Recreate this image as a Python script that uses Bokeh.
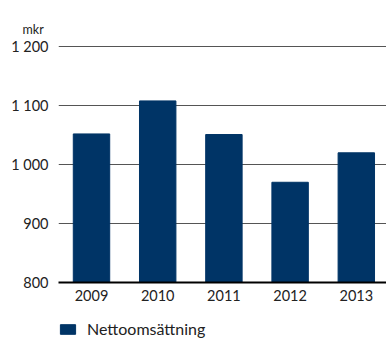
from bokeh.plotting import figure
from bokeh.layouts import column
from bokeh.models import ColumnDataSource, FixedTicker, Legend, LegendItem, Range1d
from bokeh.embed import file_html
from bokeh.resources import INLINE

years = ["2009", "2010", "2011", "2012", "2013"]
values = [1052, 1108, 1051, 970, 1020]
y_ticks = [800, 900, 1000, 1100, 1200]
y_tick_labels = ["800", "900", "1 000", "1 100", "1 200"]
series_name = "Nettoomsättning"
unit_label = "mkr"

FONT = "Lato"
BAR = "#003466"
TXT = "#222222"

x = list(range(len(years)))
src = ColumnDataSource(dict(x=x, top=values, year=years))

xr = Range1d(-0.4985, 4.456)
p = figure(width=386, height=310, output_backend="svg", toolbar_location=None,
           x_range=xr, y_range=Range1d(800, 1202),
           min_border_left=58, min_border_right=0, min_border_top=45, min_border_bottom=28,
           title=unit_label)
p.outline_line_color = None
p.background_fill_color = "white"
p.border_fill_color = "white"

p.title.align = "left"
p.title.offset = -36
p.title.text_font = FONT
p.title.text_font_size = "12.5px"
p.title.text_font_style = "normal"
p.title.text_color = TXT
p.title.standoff = 18

r = p.vbar(x="x", top="top", bottom=800, width=0.55, source=src, color=BAR)

p.xgrid.grid_line_color = None
p.ygrid.grid_line_color = "#555555"
p.ygrid.grid_line_width = 1
p.ygrid.ticker = FixedTicker(ticks=y_ticks)

p.xaxis.ticker = FixedTicker(ticks=x)
p.xaxis.major_label_overrides = {i: y for i, y in enumerate(years)}
p.xaxis.axis_line_color = "black"
p.xaxis.axis_line_width = 2
p.xaxis.major_tick_line_color = None
p.xaxis.minor_tick_line_color = None
p.xaxis.major_tick_out = 0
p.xaxis.major_tick_in = 0
p.xaxis.major_label_text_font = FONT
p.xaxis.major_label_text_font_size = "14.5px"
p.xaxis.major_label_text_color = TXT
p.xaxis.major_label_standoff = 7

p.yaxis.ticker = FixedTicker(ticks=y_ticks)
p.yaxis.major_label_overrides = {t: l for t, l in zip(y_ticks, y_tick_labels)}
p.yaxis.axis_line_color = None
p.yaxis.major_tick_line_color = None
p.yaxis.minor_tick_line_color = None
p.yaxis.major_tick_out = 0
p.yaxis.major_tick_in = 0
p.yaxis.major_label_text_font = FONT
p.yaxis.major_label_text_font_size = "14.5px"
p.yaxis.major_label_text_color = TXT
p.yaxis.major_label_standoff = 10

# legend strip (frame aligned with the chart frame by the column layout)
p2 = figure(width=386, height=28, output_backend="svg", toolbar_location=None,
            x_range=xr, y_range=Range1d(800, 1202),
            x_axis_location=None, y_axis_location=None,
            min_border_left=58, min_border_right=0, min_border_top=0, min_border_bottom=0)
p2.outline_line_color = None
p2.grid.grid_line_color = None
r2 = p2.vbar(x="x", top="top", bottom=800, width=0.55, source=src, color=BAR, visible=False)
legend = Legend(items=[LegendItem(label=series_name, renderers=[r2])],
                orientation="horizontal", glyph_width=19, glyph_height=12,
                label_text_font=FONT, label_text_font_size="16px", label_text_color=TXT,
                border_line_color=None, background_fill_alpha=0, padding=0, margin=0,
                label_standoff=10, spacing=0, location=(0, 0),
                inactive_fill_alpha=0)
p2.add_layout(legend, "center")

layout = column(p, p2, spacing=0)
open("out.html", "w").write(file_html(layout, INLINE))
